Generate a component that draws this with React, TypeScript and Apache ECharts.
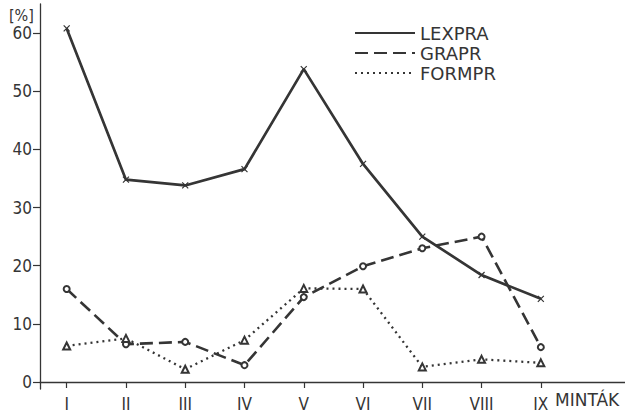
import React, { useEffect, useRef } from "react";
import * as echarts from "echarts";

const categories = ["I", "II", "III", "IV", "V", "VI", "VII", "VIII", "IX"];
const lexpra = [60.8, 34.8, 33.8, 36.6, 53.8, 37.5, 25.0, 18.4, 14.3];
const grapr = [16.0, 6.5, 6.9, 2.9, 14.6, 19.9, 23.0, 25.0, 6.0];
const formpr = [6.2, 7.5, 2.2, 7.2, 16.1, 16.0, 2.6, 3.9, 3.3];
const yTicks = [0, 10, 20, 30, 40, 50, 60];
const xAxisTitle = "MINTÁK";
const yAxisTitle = "[%]";

const INK = "#353535";
const FONT = "'Liberation Sans Narrow', 'DejaVu Sans Condensed', 'Roboto Condensed', 'Noto Sans', sans-serif";
const WIDE = "'DejaVu Sans', 'Noto Sans', sans-serif";

export default function App() {
  const ref = useRef<HTMLDivElement>(null);
  useEffect(() => {
    if (!ref.current) return;
    const chart = echarts.init(ref.current, undefined, { renderer: "svg" });
    const toPts = (arr: number[]) => categories.map((_, i) => [i, arr[i]]);
    const xIdx = categories.map((_, i) => i);
    chart.setOption({
      animation: false,
      backgroundColor: "#ffffff",
      textStyle: { fontFamily: FONT },
      grid: { left: 40, right: 0, top: 4, bottom: 22.5 },
      legend: {
        orient: "vertical",
        left: 354,
        top: 23,
        padding: 0,
        itemWidth: 60,
        itemHeight: 14,
        itemGap: 0,
        textStyle: { fontFamily: WIDE, fontSize: 18, color: INK, lineHeight: 20 },
        itemStyle: { opacity: 0 },
        data: ["LEXPRA", "GRAPR", "FORMPR"],
      },
      xAxis: {
        type: "value",
        min: -0.45,
        max: 9.42,
        splitLine: { show: false },
        axisLine: { onZero: true, lineStyle: { color: INK, width: 1.3 } },
        axisTick: { inside: false, length: 6, customValues: xIdx, lineStyle: { color: INK, width: 1.2 } },
        axisLabel: {
          customValues: xIdx,
          formatter: (v: number) => categories[Math.round(v)] ?? "",
          color: INK,
          fontSize: 17,
          fontFamily: FONT,
          margin: 6,
        },
      },
      yAxis: {
        type: "value",
        min: -1.2,
        max: 65,
        splitLine: { show: false },
        axisLine: { show: true, onZero: false, lineStyle: { color: INK, width: 1.3 } },
        axisTick: { show: true, length: 7, customValues: yTicks, lineStyle: { color: INK, width: 1.2 } },
        axisLabel: { customValues: yTicks, color: INK, fontSize: 17, fontFamily: FONT, margin: 8 },
      },
      series: [
        {
          name: "LEXPRA",
          type: "line",
          data: toPts(lexpra),
          symbol: "path://M0 0L10 10M10 0L0 10",
          symbolSize: 6,
          lineStyle: { color: INK, width: 2.7, type: "solid" },
          itemStyle: { color: INK, borderColor: INK, borderWidth: 1.2 },
        },
        {
          name: "GRAPR",
          type: "line",
          data: toPts(grapr),
          symbol: "emptyCircle",
          symbolSize: 6,
          lineStyle: { color: INK, width: 2.6, type: [13, 6] },
          itemStyle: { color: INK, borderColor: INK, borderWidth: 1.2 },
        },
        {
          name: "FORMPR",
          type: "line",
          data: toPts(formpr),
          symbol: "emptyTriangle",
          symbolSize: 7,
          lineStyle: { color: INK, width: 2.3, type: [2, 4] },
          itemStyle: { color: INK, borderColor: INK, borderWidth: 1.2 },
        },
      ],
      graphic: [
        {
          type: "text",
          left: 9,
          top: 7,
          style: { text: yAxisTitle, fontSize: 16, fontFamily: FONT, fill: INK },
        },
        {
          type: "text",
          left: 555,
          top: 391,
          style: { text: xAxisTitle, fontSize: 17, fontFamily: WIDE, fill: INK },
        },
      ],
    });
    return () => chart.dispose();
  }, []);
  return (
    <div
      ref={ref}
      style={{ position: "fixed", left: 0, top: 0, width: 625, height: 412 }}
    />
  );
}
